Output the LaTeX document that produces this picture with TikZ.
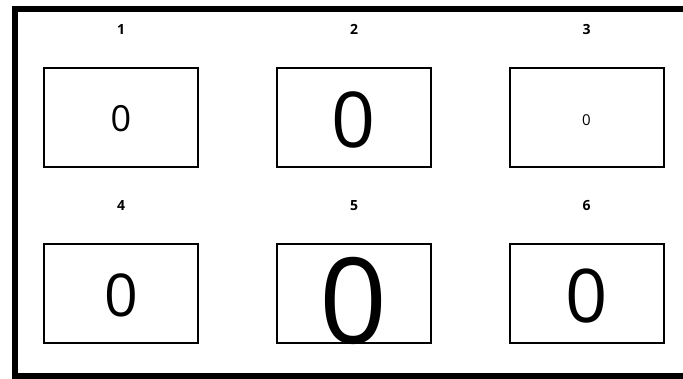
\documentclass[tikz,border=0pt]{standalone}
\usepackage{fontspec}
\setmainfont{Open Sans}
\usetikzlibrary{positioning}
\begin{document}
\begin{tikzpicture}[x=1pt,y=-1pt,
  cell/.style={draw,line width=2pt,minimum width=154pt,minimum height=99pt,inner sep=0pt},
  num/.style={font=\bfseries\fontsize{14}{14}\selectfont,anchor=base,inner sep=0pt},
  zero/.style={anchor=base,inner sep=0pt,font=\fontsize{#1}{#1}\selectfont}]
\useasboundingbox (0,0) rectangle (683,379);
\draw[line width=6pt] (683,9) -- (15,9) -- (15,376) -- (683,376);
\foreach \n/\x/\y/\s/\b in %
{1/121/117.5/36/132,2/354/117.5/77/148,3/586.5/117.5/15/126,
 4/121/293.5/59/317,5/354/293.5/119/344,6/586.5/293.5/74/323} {
   \node[cell] (c\n) at (\x,\y) {};
   \node[num] (l\n) at (\x,\y-83) {\n};
   \node[zero=\s] (z\n) at (\x,\b) {0};
}
\end{tikzpicture}
\end{document}
